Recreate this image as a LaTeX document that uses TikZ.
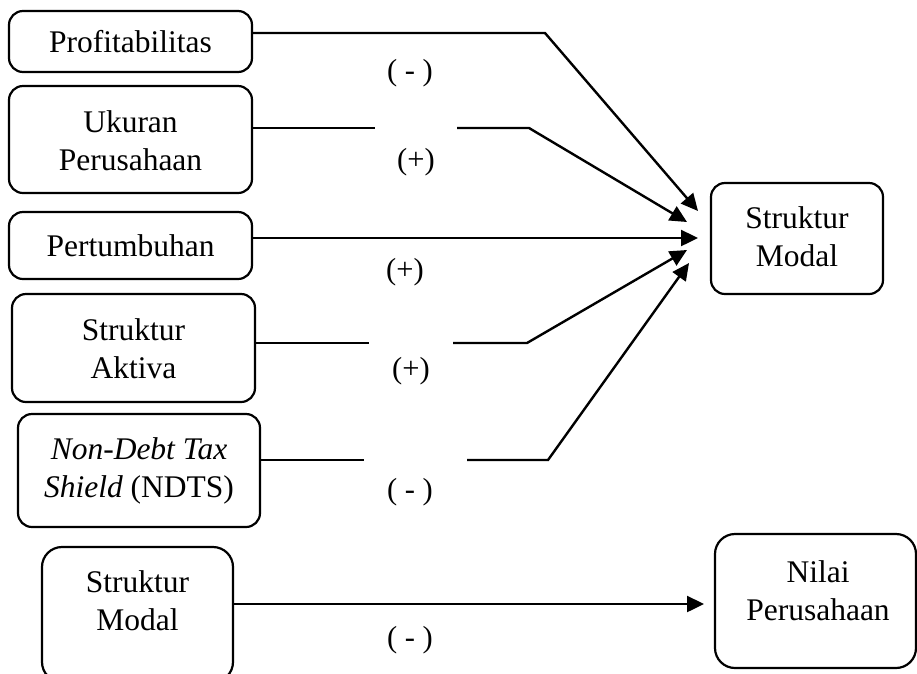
\documentclass[tikz,border=0pt]{standalone}
\usepackage{fontspec}
\setmainfont{Liberation Serif}
\usetikzlibrary{arrows.meta}
\begin{document}
\begin{tikzpicture}[x=1pt,y=-1pt,
  box/.style={draw, line width=2.2pt, rounded corners=14pt, inner sep=0pt, align=center,
    font=\fontsize{31.5}{38}\selectfont},
  txt/.style={inner sep=0pt, align=center, font=\fontsize{31.5}{38}\selectfont},
  lbl/.style={inner sep=0pt, font=\fontsize{30.5}{36}\selectfont},
  conn/.style={line width=2.4pt},
  arr/.style={line width=2.4pt, -{Triangle[length=17pt,width=16pt]}}]
\useasboundingbox (0,0) rectangle (917,673);
\clip (0,0) rectangle (917,673);
% boxes
\node[box, minimum width=243pt, minimum height=61pt] (prof) at (130.5,41.5) {Profitabilitas};
\node[box, minimum width=243pt, minimum height=107pt] (uk) at (130.5,139.5) {};
\node[txt] (ukt) at (130.5,141) {Ukuran\\Perusahaan};
\node[box, minimum width=243pt, minimum height=67pt] (pert) at (130.5,245.5) {Pertumbuhan};
\node[box, minimum width=243pt, minimum height=108pt] (akt) at (133.5,348) {};
\node[txt] (aktt) at (133.5,349) {Struktur\\Aktiva};
\node[box, minimum width=242pt, minimum height=113pt] (ndts) at (139,470.5) {};
\node[txt] (ndtst) at (139,471) {\textit{Non-Debt Tax}\\\textit{Shield} (NDTS)};
\node[box, minimum width=172pt, minimum height=111pt] (smr) at (797,238.5) {};
\node[txt] (smrt) at (797,237) {Struktur\\Modal};
\node[box, rounded corners=20pt, minimum width=191pt, minimum height=135pt] (smb) at (137.5,614.5) {};
\node[txt] (smbt) at (137.5,601) {Struktur\\Modal};
\node[box, rounded corners=20pt, minimum width=201pt, minimum height=134pt] (nilai) at (815.5,601) {};
\node[txt] (nilait) at (818,591) {Nilai\\Perusahaan};
% coordinates
\coordinate (pk) at (545,33);
\coordinate (t1) at (698,211);
\coordinate (ua) at (375,128);
\coordinate (ub) at (457,128);
\coordinate (uk2) at (529,128);
\coordinate (t2) at (687,222);
\coordinate (t3) at (698,238);
\coordinate (aa) at (369,343);
\coordinate (ab) at (453,343);
\coordinate (ak) at (527,343);
\coordinate (t4) at (687,250);
\coordinate (na) at (364,460);
\coordinate (nb) at (467,460);
\coordinate (nk) at (548,460);
\coordinate (t5) at (689,263);
\coordinate (t6) at (704,604);
% connectors
\draw[arr] (prof.east |- pk) -- (pk) -- (t1);
\draw[conn] (uk.east |- ua) -- (ua);
\draw[arr] (ub) -- (uk2) -- (t2);
\draw[arr] (pert.east |- t3) -- (t3);
\draw[conn] (akt.east |- aa) -- (aa);
\draw[arr] (ab) -- (ak) -- (t4);
\draw[conn] (ndts.east |- na) -- (na);
\draw[arr] (nb) -- (nk) -- (t5);
\draw[arr] (smb.east |- t6) -- (t6);
% labels
\node[lbl] (l1) at (410,73) {( - )};
\node[lbl] (l2) at (416,162) {(+)};
\node[lbl] (l3) at (405,272) {(+)};
\node[lbl] (l4) at (411,371) {(+)};
\node[lbl] (l5) at (410,492) {( - )};
\node[lbl] (l6) at (410,640) {( - )};
\end{tikzpicture}
\end{document}
